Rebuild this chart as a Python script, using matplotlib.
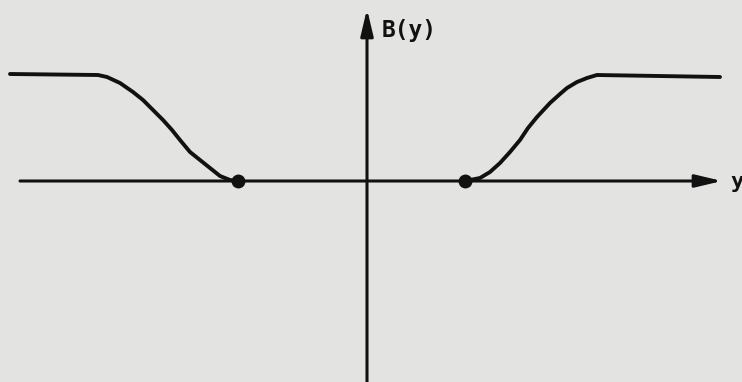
import matplotlib.pyplot as plt

# curve B(y) (origin at the axes crossing)
y_left = [-358, -270, -261, -248, -235, -225, -215, -205, -196, -188,
          -178, -168, -158, -148, -138, -130]
b_left = [107, 106, 104, 98, 89, 81, 71, 61, 51, 41, 29, 21, 13, 5, 1, 0]
y_right = [97, 112, 122, 132, 142, 152, 160, 169, 182, 192, 199, 209, 219, 229, 352]
b_right = [0, 3, 9, 18, 29, 41, 53, 64, 78, 87, 93, 99, 103, 106, 104]
dots_y = [-130, 97]
dots_b = [0, 0]

bg = '#e3e3e1'
ink = '#111111'

fig = plt.figure(figsize=(7.42, 3.82), dpi=100, facecolor=bg)
ax = fig.add_axes([0, 0, 1, 1], facecolor=bg)
ax.set_xlim(-368, 374)
ax.set_ylim(-201, 181)
ax.axis('off')

# axes with arrow heads
ax.annotate('', xy=(354, 0), xytext=(-348, 0),
            arrowprops=dict(arrowstyle='-|>,head_length=1.6,head_width=0.38',
                            color=ink, lw=2.2, shrinkA=0, shrinkB=0))
ax.annotate('', xy=(-1, 172), xytext=(-1, -201),
            arrowprops=dict(arrowstyle='-|>,head_length=1.6,head_width=0.38',
                            color=ink, lw=2.2, shrinkA=0, shrinkB=0))

ax.plot(y_left, b_left, color=ink, lw=2.8, solid_capstyle='round', solid_joinstyle='round')
ax.plot(y_right, b_right, color=ink, lw=2.8, solid_capstyle='round', solid_joinstyle='round')
ax.plot(dots_y, dots_b, 'o', color=ink, ms=9)

ax.text(14, 150, 'B(y)', fontsize=16.5, fontweight='bold', color=ink,
        ha='left', va='center', family='DejaVu Sans Mono')
ax.text(362, -1, 'y', fontsize=16, fontweight='bold', color=ink,
        ha='left', va='center', family='DejaVu Sans Mono')

fig.savefig('out.png', dpi=100, facecolor=bg)
